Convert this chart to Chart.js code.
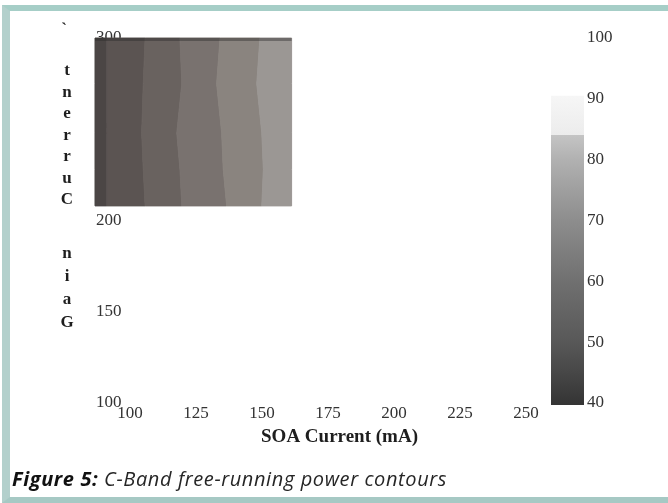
<!DOCTYPE html>
<html>
<head>
<meta charset="utf-8">
<title>C-Band free-running power contours</title>
<script src="https://cdn.jsdelivr.net/npm/chart.js@4.4.1/dist/chart.umd.min.js"></script>
<style>
  html, body { margin: 0; padding: 0; background: #fff; }
  #page { position: relative; width: 668px; height: 503px; overflow: hidden; background: #fff; }
  #frame {
    position: absolute; left: 2px; top: 5px; width: 700px; height: 486px;
    border-top: 6px solid #a6cec7; border-left: 8px solid #b3d0cc; border-bottom: 6px solid #a6c9c4;
  }
  #chartBox { position: absolute; left: 0; top: 0; width: 668px; height: 503px; }
  #caption {
    position: absolute; left: 12px; top: 465px; letter-spacing: 0.6px;
    font-family: "Open Sans", sans-serif; font-style: italic; font-size: 20px; color: #262626;
  }
  #caption b { font-weight: 700; color: #111; }
</style>
</head>
<body>
<div id="page">
  <div id="frame"></div>
  <div id="chartBox"><canvas id="contourChart" width="668" height="503"></canvas></div>
  <div id="caption"><b>Figure 5:</b> C-Band free-running power contours</div>
</div>
<script>
// Figure 5: free-running power contours (SOA current vs gain current) with a grey colour bar.

const xTicks = [100, 125, 150, 175, 200, 225, 250];      // SOA current (mA)
const yTicks = [100, 150, 200, 250, 300];                // gain current
const powerTicks = [40, 50, 60, 70, 80, 90, 100];        // colour bar

// gain current rows at which the contour band edges were read
const gainRows = [208, 228, 248, 275, 300];
// SOA current of each band edge, one value per gain row (left to right)
const bandEdges = [
    [86.7, 86.7, 86.7, 86.7, 86.7],
    [91.2, 91.2, 91.2, 91.2, 91.2],
    [105.7, 105.0, 104.4, 105.0, 105.7],
    [119.6, 118.9, 117.7, 119.6, 118.9],
    [136.6, 135.3, 134.7, 132.8, 134.1],
    [149.9, 150.5, 149.9, 148.0, 149.2],
    [161.2, 161.2, 161.2, 161.2, 161.2]
];
const bandPower = [44, 48, 52, 56, 61, 66];

// colour bar levels (power) and where its grey ramp changes
const colorbarLevels = [40, 45, 50, 60, 70, 80, 84, 84, 90.5];

// #region styles
const bandShades = ['#4b4645', '#5b5452', '#69625f', '#79726f', '#8a847f', '#9b9794'];
const colorbarShades = ['#353535', '#474747', '#585858', '#707070', '#8d8d8d', '#b1b1b1', '#c4c4c4', '#ececec', '#f6f6f6'];
const serif = '"Liberation Serif", "Times New Roman", serif';
const tickColor = '#333';
// #endregion styles

const contourPlugin = {
    id: 'contours',
    afterDraw(chart) {
        const { ctx, chartArea } = chart;
        const x = chart.scales.x, y = chart.scales.y, power = chart.scales.power;
        ctx.save();

        // contour bands, drawn over the hidden axis labels like in the original
        for (let b = 0; b < bandPower.length; b++) {
            const left = bandEdges[b], right = bandEdges[b + 1];
            ctx.beginPath();
            gainRows.forEach((g, i) => {
                const px = x.getPixelForValue(left[i]), py = y.getPixelForValue(g);
                if (i === 0) ctx.moveTo(px, py); else ctx.lineTo(px, py);
            });
            for (let i = gainRows.length - 1; i >= 0; i--) {
                ctx.lineTo(x.getPixelForValue(right[i]), y.getPixelForValue(gainRows[i]));
            }
            ctx.closePath();
            ctx.fillStyle = bandShades[b];
            ctx.strokeStyle = bandShades[b];
            ctx.lineWidth = 1;
            ctx.fill();
            ctx.stroke();
        }
        // darker top edge of the map
        const topY = y.getPixelForValue(gainRows[gainRows.length - 1]);
        const mapLeft = x.getPixelForValue(bandEdges[0][0]);
        const mapRight = x.getPixelForValue(bandEdges[bandEdges.length - 1][0]);
        ctx.fillStyle = 'rgba(40,40,40,0.4)';
        ctx.fillRect(mapLeft, topY, mapRight - mapLeft, 3);

        // colour bar along the right edge of the plot
        const barBottom = power.getPixelForValue(colorbarLevels[0]);
        const barTop = power.getPixelForValue(colorbarLevels[colorbarLevels.length - 1]);
        const grad = ctx.createLinearGradient(0, barBottom, 0, barTop);
        colorbarLevels.forEach((v, i) => {
            grad.addColorStop((power.getPixelForValue(v) - barBottom) / (barTop - barBottom), colorbarShades[i]);
        });
        ctx.fillStyle = grad;
        ctx.fillRect(chartArea.right - 33, barTop, 33, barBottom - barTop + 2);

        // stacked y title letters ("Gain Current" read upward)
        ctx.font = 'bold 17px ' + serif;
        ctx.fillStyle = '#1e1e1e';
        ctx.textAlign = 'center';
        ctx.textBaseline = 'middle';
        ctx.fillText('`', 64, 30);
        'tnerruC'.split('').forEach((c, i) => ctx.fillText(c, 67, 71 + i * 21.5));
        'niaG'.split('').forEach((c, i) => ctx.fillText(c, 67, 254 + i * 23));
        ctx.restore();
    }
};

const toTicks = list => list.map(v => ({ value: v }));

const config = {
    type: 'scatter',
    data: { datasets: [] },
    options: {
        responsive: false,
        animation: false,
        layout: { padding: { left: 95, right: 44, top: 38, bottom: 40 } },
        plugins: { legend: { display: false }, tooltip: { enabled: false } },
        scales: {
            x: {
                type: 'linear',
                min: 86.7,
                max: 272,
                afterBuildTicks: s => { s.ticks = toTicks(xTicks); },
                afterFit: s => { s.height = 60; },
                grid: { display: false, drawTicks: false },
                border: { display: false },
                ticks: { padding: 0, color: tickColor, font: { family: serif, size: 17 } },
                title: {
                    display: true,
                    text: 'SOA Current (mA)',
                    color: '#1e1e1e',
                    font: { family: serif, size: 19, weight: 'bold' },
                    padding: { top: 0, bottom: 15 }
                }
            },
            y: {
                type: 'linear',
                position: 'left',
                min: 100,
                max: 300,
                afterBuildTicks: s => { s.ticks = toTicks(yTicks); },
                afterFit: s => { s.width = 0; },
                grid: { display: false, drawTicks: false },
                border: { display: false },
                ticks: { mirror: true, padding: 1, color: tickColor, font: { family: serif, size: 17 } }
            },
            power: {
                type: 'linear',
                position: 'right',
                min: 40,
                max: 100,
                afterBuildTicks: s => { s.ticks = toTicks(powerTicks); },
                afterFit: s => { s.width = 40; },
                grid: { display: false, drawTicks: false },
                border: { display: false },
                ticks: { padding: 3, color: tickColor, font: { family: serif, size: 17 } }
            }
        }
    },
    plugins: [contourPlugin]
};

const contourChart = new Chart(document.getElementById('contourChart').getContext('2d'), config);
</script>
</body>
</html>
